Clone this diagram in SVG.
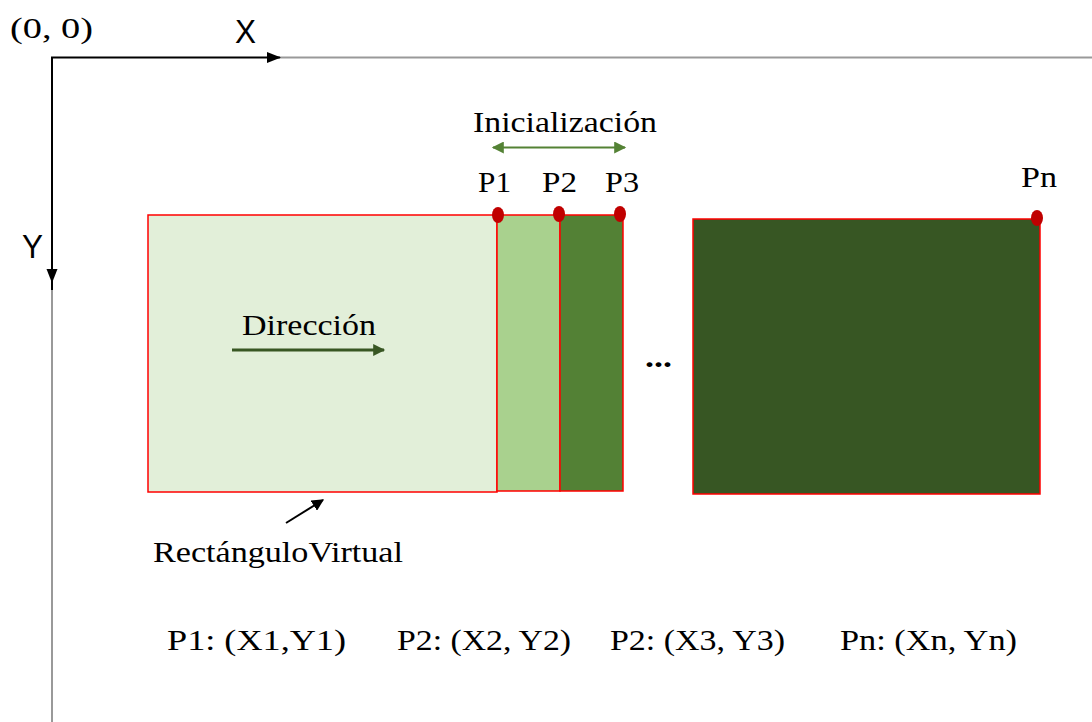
<svg xmlns="http://www.w3.org/2000/svg" width="1092" height="722" viewBox="0 0 1092 722">
<style>
.serif{font-family:"Liberation Serif","Times New Roman",serif;font-size:30px;fill:#000}
.sans{font-family:"Liberation Sans",Arial,sans-serif;font-size:33px;fill:#000}
.box{stroke:#FF0000;stroke-width:1.5}
.dot{fill:#C00000}
</style>
<defs>
<marker id="ab" viewBox="0 0 10 10" refX="9" refY="5" markerWidth="12" markerHeight="12" markerUnits="userSpaceOnUse" orient="auto"><path d="M0,0 L10,5 L0,10 z" fill="#000"/></marker>
<marker id="ag" viewBox="0 0 10 10" refX="9" refY="5" markerWidth="14" markerHeight="12" markerUnits="userSpaceOnUse" orient="auto"><path d="M0,0 L10,5 L0,10 z" fill="#548235"/></marker>
<marker id="agb" viewBox="0 0 10 10" refX="1" refY="5" markerWidth="14" markerHeight="12" markerUnits="userSpaceOnUse" orient="auto"><path d="M10,0 L0,5 L10,10 z" fill="#548235"/></marker>
<marker id="ad" viewBox="0 0 10 10" refX="9" refY="5" markerWidth="14" markerHeight="12" markerUnits="userSpaceOnUse" orient="auto"><path d="M0,0 L10,5 L0,10 z" fill="#385723"/></marker>
</defs>
<g id="axes">
<line x1="280" y1="57.5" x2="1092" y2="57.5" stroke="#999" stroke-width="2"/>
<line x1="52" y1="282" x2="52" y2="722" stroke="#999" stroke-width="2"/>
<polyline points="52,290 52,57.5 280,57.5" fill="none" stroke="#000" stroke-width="2"/>
<path d="M267,52 L281,57.5 L267,63 z" fill="#000"/>
<path d="M46.5,269 L52,283 L57.5,269 z" fill="#000"/>
<text class="serif" x="10" y="38" font-size="33" textLength="83" lengthAdjust="spacingAndGlyphs">(0, 0)</text>
<text class="sans" x="235" y="43" textLength="21" lengthAdjust="spacingAndGlyphs">X</text>
<text class="sans" x="22" y="258" textLength="21" lengthAdjust="spacingAndGlyphs">Y</text>
</g>
<g id="rect1">
<rect class="box" x="148" y="215" width="349" height="277" fill="#E2EFD9"/>
<text class="serif" x="242" y="335" textLength="134" lengthAdjust="spacingAndGlyphs">Dirección</text>
</g>
<g id="rect2"><rect class="box" x="497" y="215" width="63" height="276" fill="#A9D18E"/></g>
<g id="rect3"><rect class="box" x="560" y="215" width="63" height="276" fill="#538135"/></g>
<g id="rect4"><rect class="box" x="693" y="219" width="347" height="275" fill="#375623"/></g>
<g id="points">
<ellipse class="dot" cx="498" cy="215" rx="6" ry="8"/>
<ellipse class="dot" cx="559" cy="214" rx="6" ry="8"/>
<ellipse class="dot" cx="620" cy="214" rx="6" ry="8"/>
<ellipse class="dot" cx="1037" cy="218" rx="6" ry="8"/>
<text class="serif" x="478" y="192" textLength="33" lengthAdjust="spacingAndGlyphs">P1</text>
<text class="serif" x="542" y="192" textLength="35" lengthAdjust="spacingAndGlyphs">P2</text>
<text class="serif" x="605" y="192" textLength="34" lengthAdjust="spacingAndGlyphs">P3</text>
<text class="serif" x="1021" y="187" textLength="36" lengthAdjust="spacingAndGlyphs">Pn</text>
</g>
<g id="labels">
<text class="serif" x="473" y="132" textLength="184" lengthAdjust="spacingAndGlyphs">Inicialización</text>
<text class="serif" x="153" y="562" textLength="250" lengthAdjust="spacingAndGlyphs">RectánguloVirtual</text>
<text class="serif" x="645" y="367" textLength="27" lengthAdjust="spacingAndGlyphs" font-weight="bold">...</text>
<text class="serif" x="167" y="650" textLength="179" lengthAdjust="spacingAndGlyphs">P1: (X1,Y1)</text>
<text class="serif" x="397" y="650" textLength="174" lengthAdjust="spacingAndGlyphs">P2: (X2, Y2)</text>
<text class="serif" x="610" y="650" textLength="175" lengthAdjust="spacingAndGlyphs">P2: (X3, Y3)</text>
<text class="serif" x="840" y="650" textLength="177" lengthAdjust="spacingAndGlyphs">Pn: (Xn, Yn)</text>
</g>
<g id="connectors">
<line x1="493" y1="147.5" x2="625" y2="147.5" stroke="#548235" stroke-width="2" marker-start="url(#agb)" marker-end="url(#ag)"/>
<line x1="232" y1="350" x2="384" y2="350" stroke="#385723" stroke-width="3" marker-end="url(#ad)"/>
<line x1="286" y1="523" x2="323" y2="500" stroke="#000" stroke-width="2" marker-end="url(#ab)"/>
</g>
</svg>
